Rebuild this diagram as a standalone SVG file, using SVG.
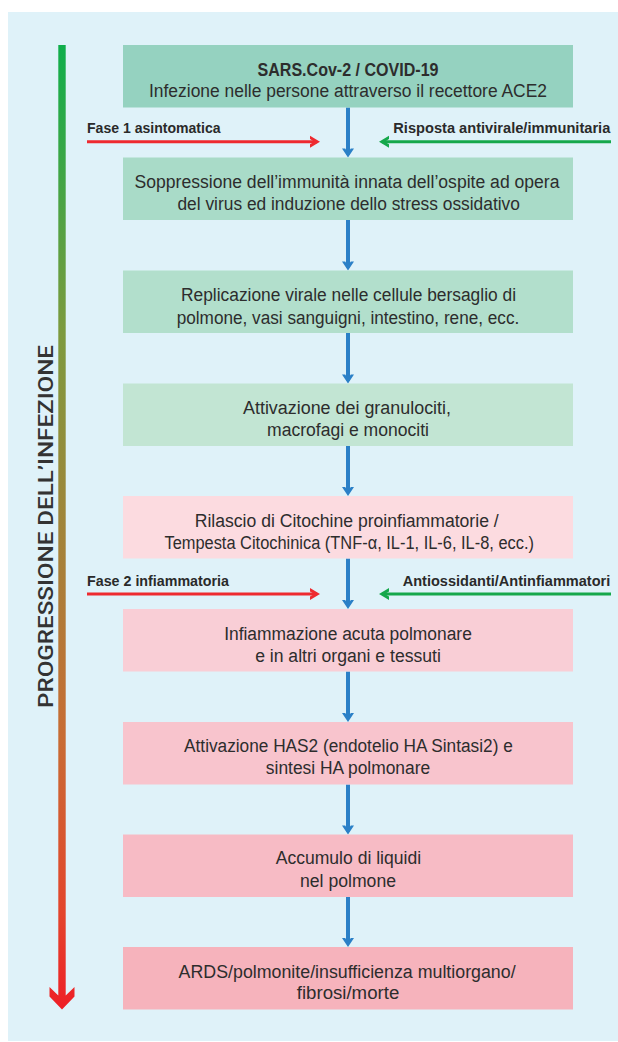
<svg xmlns="http://www.w3.org/2000/svg" width="618" height="1042" viewBox="0 0 618 1042">
<defs>
<style>
.bt{font-family:"Liberation Sans",Arial,sans-serif;font-size:18px;fill:#2d2d2d;text-anchor:middle}
.bb{font-weight:bold}
.lb{font-family:"Liberation Sans",Arial,sans-serif;font-size:15px;font-weight:bold;fill:#2a2a2a}
.vt{font-family:Roboto,"Liberation Sans",sans-serif;font-size:20px;font-weight:500;fill:#333;text-anchor:middle}
.cb{stroke:#2b80c7;stroke-width:4;fill:none}
.cr{stroke:#ee2a2f;stroke-width:3;fill:none}
.cg{stroke:#15a84b;stroke-width:3;fill:none}
</style>
<linearGradient id="prog" gradientUnits="userSpaceOnUse" x1="0" y1="45" x2="0" y2="1009">
<stop offset="0" stop-color="#0fae4b"/>
<stop offset="0.3" stop-color="#7d9a3e"/>
<stop offset="0.72" stop-color="#c86c34"/>
<stop offset="0.9" stop-color="#e3452c"/>
<stop offset="1" stop-color="#ee1f26"/>
</linearGradient>
<marker id="mb" markerUnits="userSpaceOnUse" orient="auto" refX="0" refY="0" markerWidth="20" markerHeight="20" overflow="visible">
<polygon points="3,0 -6,-6 -6,-2.8 -1.8,0 -6,2.8 -6,6" fill="#2b80c7"/>
</marker>
<marker id="mr" markerUnits="userSpaceOnUse" orient="auto" refX="0" refY="0" markerWidth="20" markerHeight="20" overflow="visible">
<polygon points="3,0 -7,-6 -7,-2.6 -2.7,0 -7,2.6 -7,6" fill="#ee2a2f"/>
</marker>
<marker id="mg" markerUnits="userSpaceOnUse" orient="auto" refX="0" refY="0" markerWidth="20" markerHeight="20" overflow="visible">
<polygon points="3,0 -7,-6 -7,-2.6 -2.7,0 -7,2.6 -7,6" fill="#15a84b"/>
</marker>
</defs>
<rect x="0" y="0" width="618" height="1042" fill="#ffffff"/>
<rect x="8" y="12" width="610" height="1029" fill="#dff2f9"/>

<g id="progression">
<polygon points="58.3,45 65.7,45 65.7,995.5 74.5,987 74.5,996.5 62,1009.5 49.5,996.5 49.5,987 58.3,995.5" fill="url(#prog)"/>
<text class="vt" transform="translate(53,526.5) rotate(-90)" textLength="363" lengthAdjust="spacingAndGlyphs">PROGRESSIONE DELL’INFEZIONE</text>
</g>

<g id="connectors">
<path class="cb" d="M348,107.5 V154.5" marker-end="url(#mb)"/>
<path class="cb" d="M348,220 V267.5" marker-end="url(#mb)"/>
<path class="cb" d="M348,333 V380.5" marker-end="url(#mb)"/>
<path class="cb" d="M348,446 V493" marker-end="url(#mb)"/>
<path class="cb" d="M348,558.5 V606" marker-end="url(#mb)"/>
<path class="cb" d="M348,671.5 V719" marker-end="url(#mb)"/>
<path class="cb" d="M348,784.5 V831.5" marker-end="url(#mb)"/>
<path class="cb" d="M348,897 V944" marker-end="url(#mb)"/>
<path class="cr" d="M87,141.7 H317" marker-end="url(#mr)"/>
<path class="cg" d="M611,141.7 H382" marker-end="url(#mg)"/>
<path class="cr" d="M87,594 H317" marker-end="url(#mr)"/>
<path class="cg" d="M611,594 H382" marker-end="url(#mg)"/>
</g>

<g id="label-fase1">
<text class="lb" x="87" y="133.3" textLength="133.6" lengthAdjust="spacingAndGlyphs">Fase 1 asintomatica</text>
</g>
<g id="label-risposta">
<text class="lb" x="610.3" y="133.3" text-anchor="end" textLength="217" lengthAdjust="spacingAndGlyphs">Risposta antivirale/immunitaria</text>
</g>
<g id="label-fase2">
<text class="lb" x="87" y="585.7" textLength="142" lengthAdjust="spacingAndGlyphs">Fase 2 infiammatoria</text>
</g>
<g id="label-antiossidanti">
<text class="lb" x="610.3" y="585.7" text-anchor="end" textLength="207.6" lengthAdjust="spacingAndGlyphs">Antiossidanti/Antinfiammatori</text>
</g>

<g id="n1">
<rect x="123" y="45" width="450" height="62.5" fill="#95d2c0"/>
<text class="bt bb" x="348" y="75.7" textLength="181" lengthAdjust="spacingAndGlyphs">SARS.Cov-2 / COVID-19</text>
<text class="bt" x="348" y="97.3" textLength="398" lengthAdjust="spacingAndGlyphs">Infezione nelle persone attraverso il recettore ACE2</text>
</g>
<g id="n2">
<rect x="123" y="157.5" width="450" height="62.5" fill="#a9dbc8"/>
<text class="bt" x="347" y="188" textLength="425" lengthAdjust="spacingAndGlyphs">Soppressione dell’immunità innata dell’ospite ad opera</text>
<text class="bt" x="348.7" y="210" textLength="342.5" lengthAdjust="spacingAndGlyphs">del virus ed induzione dello stress ossidativo</text>
</g>
<g id="n3">
<rect x="123" y="270.5" width="450" height="62.5" fill="#b2dfcc"/>
<text class="bt" x="348.5" y="300.8" textLength="335" lengthAdjust="spacingAndGlyphs">Replicazione virale nelle cellule bersaglio di</text>
<text class="bt" x="348" y="323.5" textLength="342.6" lengthAdjust="spacingAndGlyphs">polmone, vasi sanguigni, intestino, rene, ecc.</text>
</g>
<g id="n4">
<rect x="123" y="383.5" width="450" height="62.5" fill="#c2e5d3"/>
<text class="bt" x="347" y="414" textLength="208" lengthAdjust="spacingAndGlyphs">Attivazione dei granulociti,</text>
<text class="bt" x="348" y="436.3" textLength="162" lengthAdjust="spacingAndGlyphs">macrofagi e monociti</text>
</g>
<g id="n5">
<rect x="123" y="496" width="450" height="62.5" fill="#fcdbe0"/>
<text class="bt" x="346.7" y="526.7" textLength="304" lengthAdjust="spacingAndGlyphs">Rilascio di Citochine proinfiammatorie /</text>
<text class="bt" x="349.2" y="549.3" textLength="369.5" lengthAdjust="spacingAndGlyphs">Tempesta Citochinica (TNF-α, IL-1, IL-6, IL-8, ecc.)</text>
</g>
<g id="n6">
<rect x="123" y="609" width="450" height="62.5" fill="#f9ced6"/>
<text class="bt" x="348" y="640" textLength="247.7" lengthAdjust="spacingAndGlyphs">Infiammazione acuta polmonare</text>
<text class="bt" x="348" y="661.7" textLength="185.7" lengthAdjust="spacingAndGlyphs">e in altri organi e tessuti</text>
</g>
<g id="n7">
<rect x="123" y="722" width="450" height="62.5" fill="#f8c4cd"/>
<text class="bt" x="348.4" y="751.7" textLength="328.7" lengthAdjust="spacingAndGlyphs">Attivazione HAS2 (endotelio HA Sintasi2) e</text>
<text class="bt" x="348" y="774" textLength="164.3" lengthAdjust="spacingAndGlyphs">sintesi HA polmonare</text>
</g>
<g id="n8">
<rect x="123" y="834.5" width="450" height="62.5" fill="#f7bbc5"/>
<text class="bt" x="348.4" y="864.3" textLength="145.3" lengthAdjust="spacingAndGlyphs">Accumulo di liquidi</text>
<text class="bt" x="348" y="887.3" textLength="96" lengthAdjust="spacingAndGlyphs">nel polmone</text>
</g>
<g id="n9">
<rect x="123" y="947" width="450" height="62.5" fill="#f6b3bc"/>
<text class="bt" x="347.1" y="977.7" textLength="337" lengthAdjust="spacingAndGlyphs">ARDS/polmonite/insufficienza multiorgano/</text>
<text class="bt" x="348" y="999.3" textLength="102.5" lengthAdjust="spacingAndGlyphs">fibrosi/morte</text>
</g>
</svg>
